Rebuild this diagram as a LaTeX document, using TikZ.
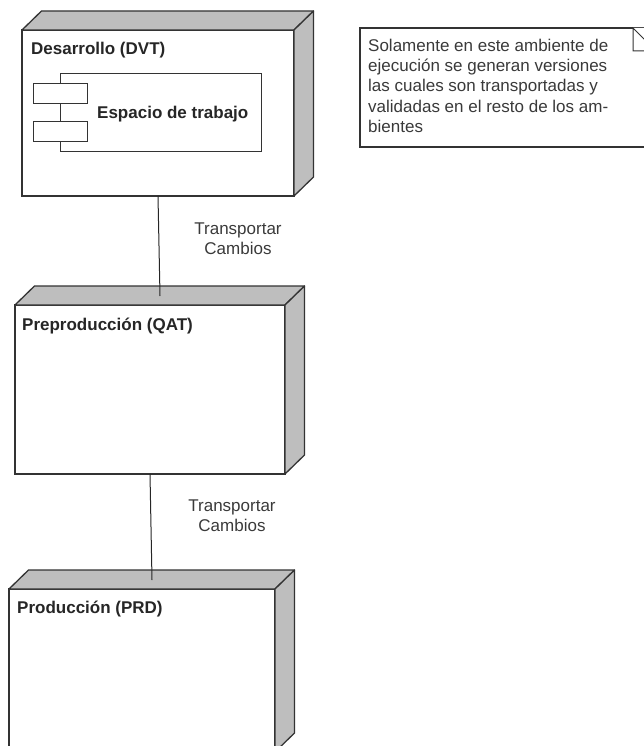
\documentclass[tikz,border=0pt]{standalone}
\usepackage{fontspec}
\setmainfont{Liberation Sans}
\definecolor{linea}{HTML}{333333}
\definecolor{lateral}{HTML}{BEBEBE}
\definecolor{texto}{HTML}{3A3A3A}
\tikzset{
  caja/.style={draw=linea,line width=1.3pt,fill=white,anchor=north west,inner sep=0pt,outer sep=0pt},
  lado/.style={draw=linea,line width=1.3pt,fill=lateral,line join=round},
  titulo/.style={anchor=west,inner sep=0pt,text=black!85,font=\bfseries\fontsize{17}{20}\selectfont},
  etiqueta/.style={align=center,inner sep=0pt,text=texto,font=\fontsize{17}{20}\selectfont},
  enlace/.style={draw=black!85,line width=1pt},
  fina/.style={draw=linea,line width=1pt,fill=white,anchor=north west,inner sep=0pt,outer sep=0pt}
}
\begin{document}
\begin{tikzpicture}[x=1pt,y=-1pt]
  \clip (0,0) rectangle (644,746);
  \foreach \nombre/\px/\py/\ancho/\alto in {dvt/22/30/272/166,qat/15/305/270/169,prd/9/589/266/163}{
    \node[caja,minimum width=\ancho pt,minimum height=\alto pt] (\nombre) at (\px,\py) {};
    \draw[lado] (\nombre.north west) -- ++(19.5,-19) -- ++(\ancho,0) -- ++(-19.5,19) -- cycle;
    \draw[lado] (\nombre.north east) -- ++(19.5,-19) -- ++(0,\alto) -- ++(-19.5,19) -- cycle;
  }
  \node[titulo] (tdvt) at (31,50) {Desarrollo (DVT)};
  \node[titulo] (tqat) at (22,326) {Preproducción (QAT)};
  \node[titulo] (tprd) at (17,609) {Producción (PRD)};

  \node[fina,minimum width=201pt,minimum height=78pt] (espacio) at (60,74) {};
  \node[fina,minimum width=54pt,minimum height=20pt] (puerto1) at (33,84) {};
  \node[fina,minimum width=54pt,minimum height=20pt] (puerto2) at (33,122) {};
  \node[titulo] (tespacio) at (97,114) {Espacio de trabajo};

  \coordinate (finqat) at (160,296);
  \coordinate (finprd) at (152,580);
  \draw[enlace] (dvt.south) -- (finqat);
  \draw[enlace] (qat.south) -- (finprd);
  \node[etiqueta] (cambios1) at (238,239) {Transportar\\Cambios};
  \node[etiqueta] (cambios2) at (232,516) {Transportar\\Cambios};

  \node[fina,line width=1.3pt,minimum width=300pt,minimum height=119pt] (nota) at (360,28) {};
  \coordinate (pliegue) at (633,28);
  \fill[white] (pliegue) -- (660,28) -- (660,55) -- cycle;
  \draw[fina] (pliegue) -- ++(23,23) -- ++(-23,0) -- cycle;
  \node[anchor=north west,inner sep=0pt,align=left,text=texto,font=\fontsize{17}{20.2}\selectfont] (tnota) at (368,39)
    {Solamente en este ambiente de\\ejecución se generan versiones\\las cuales son transportadas y\\validadas en el resto de los am-\\bientes};
\end{tikzpicture}
\end{document}
